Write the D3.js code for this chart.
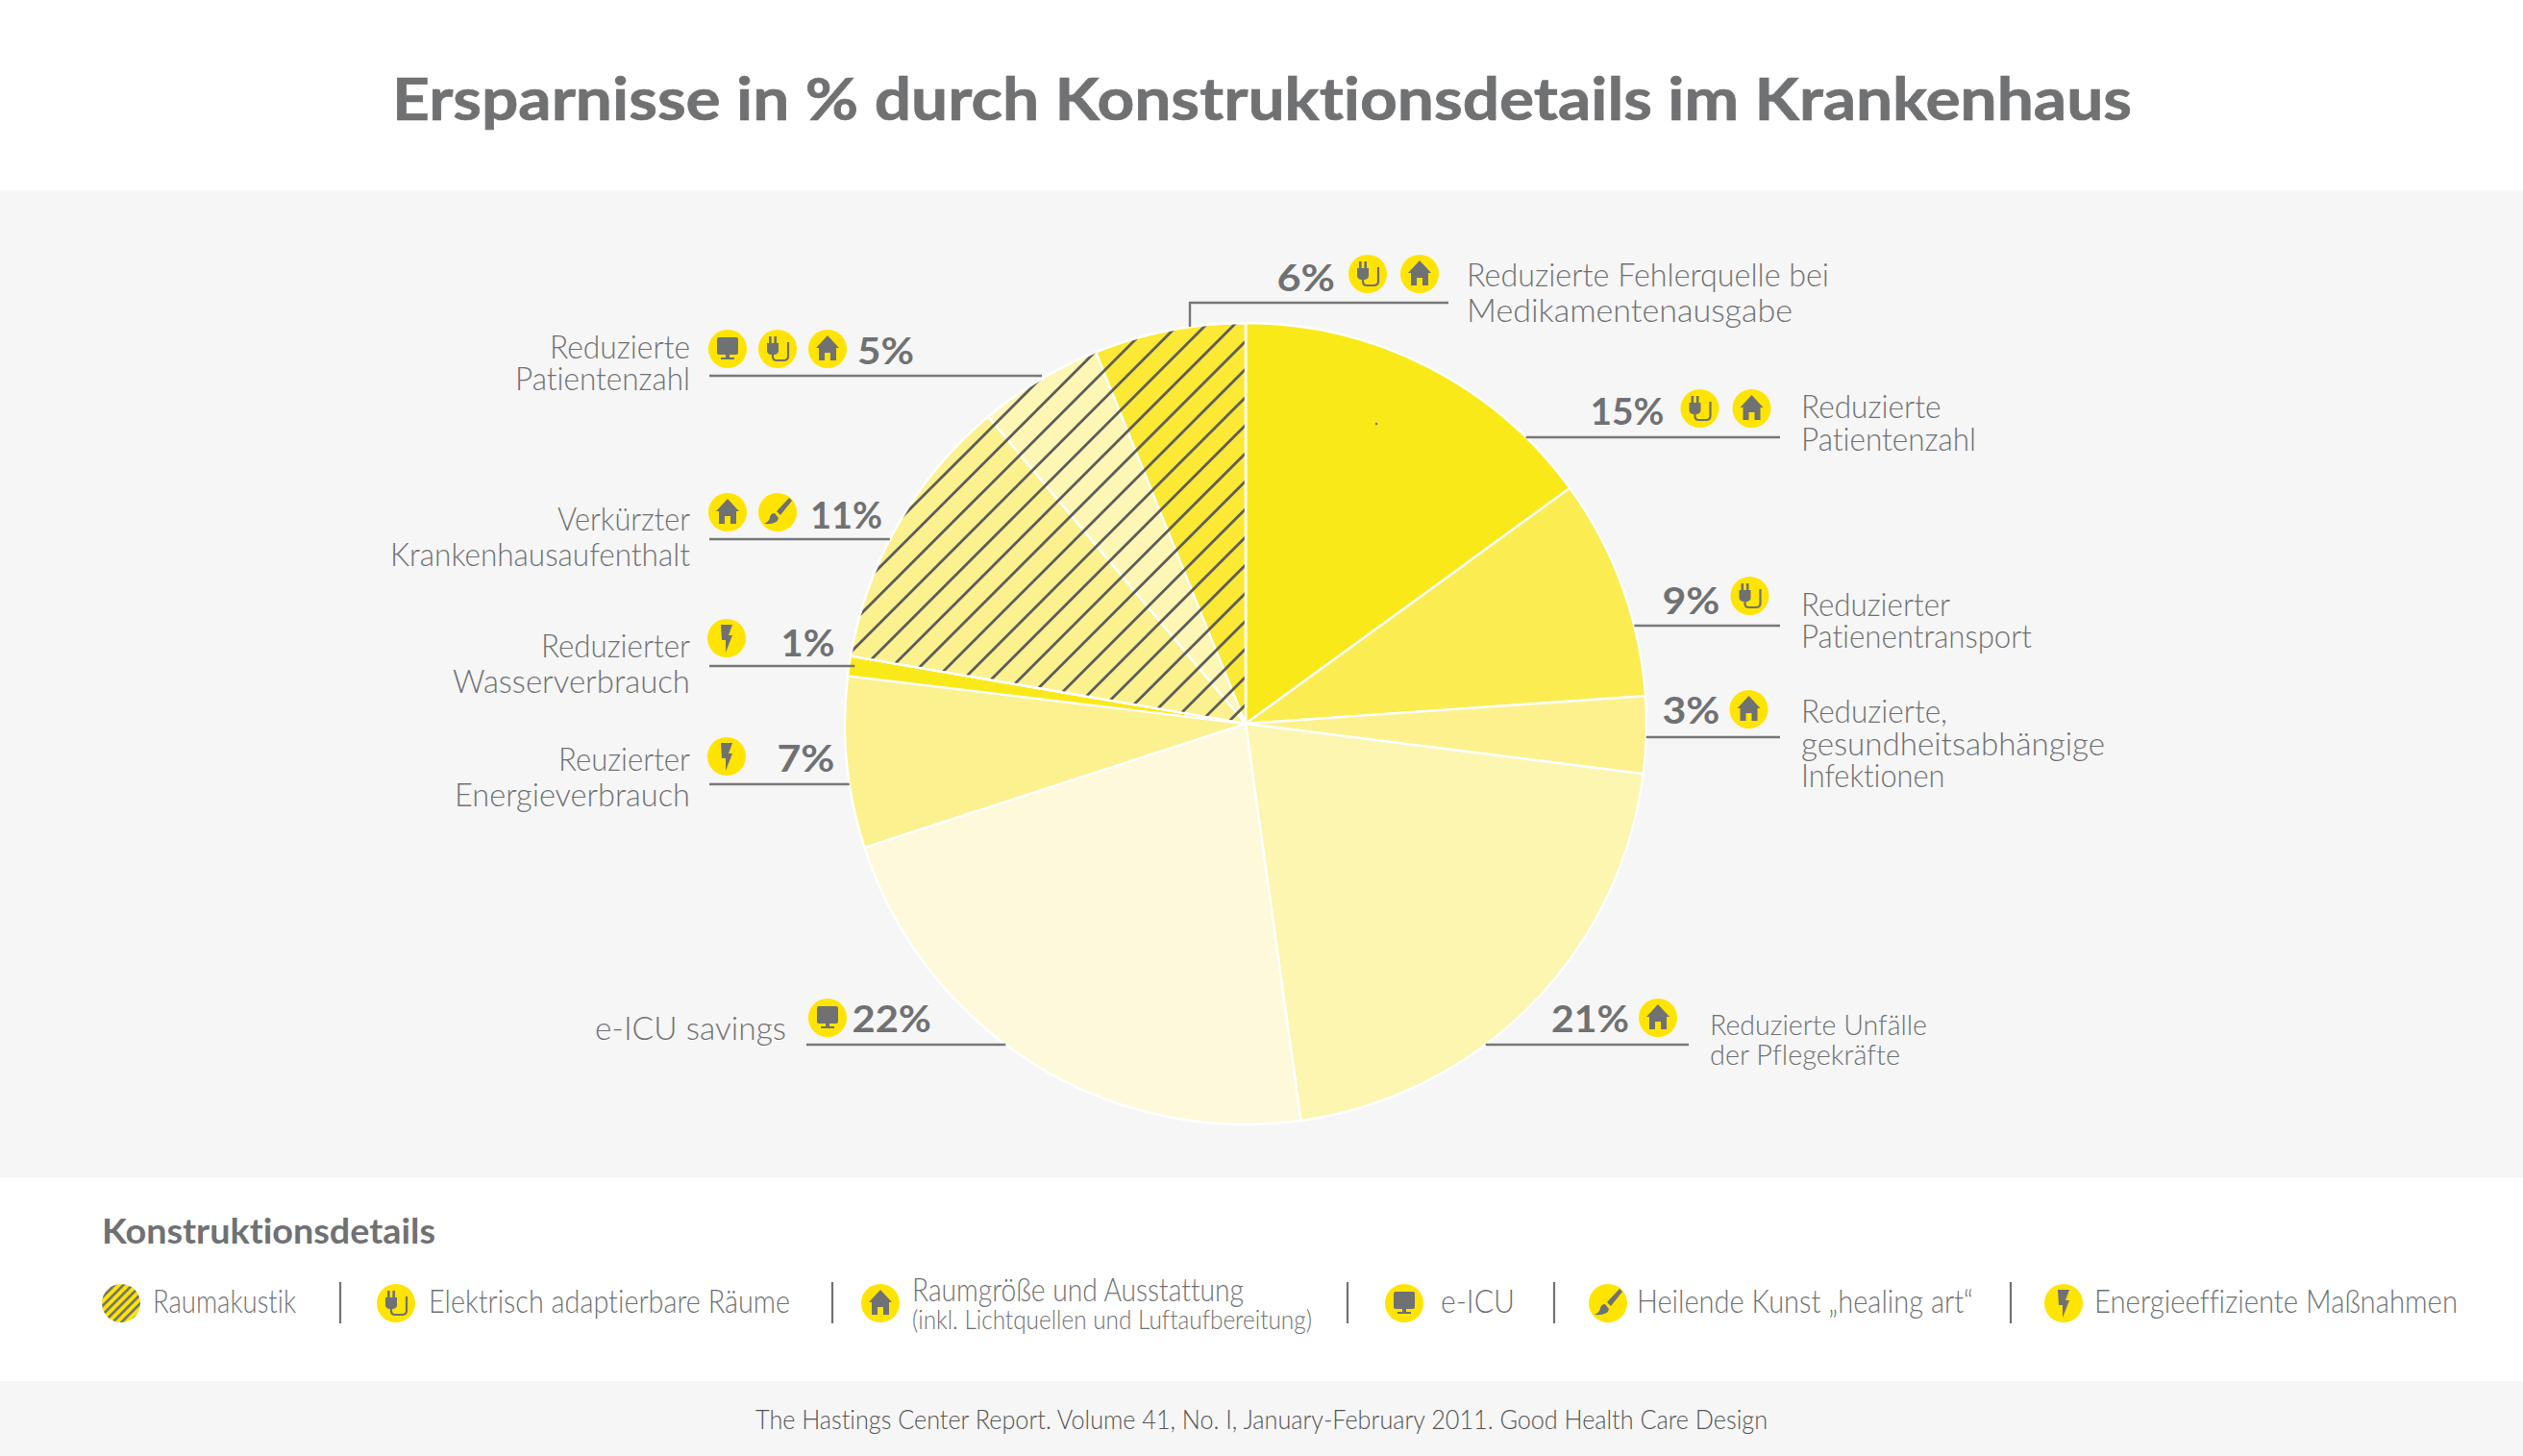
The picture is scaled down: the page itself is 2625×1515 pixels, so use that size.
<!DOCTYPE html>
<html lang="de">
<head>
<meta charset="UTF-8"/>
<title>Ersparnisse in % durch Konstruktionsdetails im Krankenhaus</title>
<script src="https://d3js.org/d3.v7.min.js"></script>
<style>
  body { margin: 0; background: #fff; overflow: hidden; }
  svg { display: block; }
  text { font-family: Lato, "Open Sans", sans-serif; fill: #707173; font-variant-ligatures: none; }
</style>
</head>
<body>
<script>
// ---- data, clockwise from 12 o'clock. Slices in the picture are not exactly
// the printed percentages, the labels are the rounded values
var savings = [15, 8.9, 3.1, 20.8, 22.2, 6.9, 0.8, 11.2, 5, 6.1];
var categories = [
  ["Reduzierte", "Patientenzahl"],
  ["Reduzierter", "Patienentransport"],
  ["Reduzierte,", "gesundheitsabhängige", "Infektionen"],
  ["Reduzierte Unfälle", "der Pflegekräfte"],
  ["e-ICU savings"],
  ["Reuzierter", "Energieverbrauch"],
  ["Reduzierter", "Wasserverbrauch"],
  ["Verkürzter", "Krankenhausaufenthalt"],
  ["Reduzierte", "Patientenzahl"],
  ["Reduzierte Fehlerquelle bei", "Medikamentenausgabe"]
];
var details = [
  ["plug", "house"], ["plug"], ["house"], ["house"], ["monitor"],
  ["bolt"], ["bolt"], ["house", "brush"], ["monitor", "plug", "house"], ["plug", "house"]
];
var hatched = [false, false, false, false, false, false, false, true, true, true];
var legendLabels = ["Raumakustik", "Elektrisch adaptierbare Räume", "Raumgröße und Ausstattung", "e-ICU", "Heilende Kunst „healing art“", "Energieeffiziente Maßnahmen"];
var legendIcons = ["hatch", "plug", "house", "monitor", "brush", "bolt"];

var w = 2625, h = 1515;
var grey = "#707173", iconYellow = "#ffe400";
var fills = ["#fae919", "#fbec52", "#fcf18c", "#fdf6b0", "#fef9da", "#fcf18f", "#fae919", "#fcf18f", "#fdf6b5", "#fbe935"];
var cx = 1296, cy = 753, r = 417;

var svg = d3.select("body").append("svg").attr("width", w).attr("height", h);

// background bands
svg.append("rect").attr("width", w).attr("height", h).attr("fill", "#fff");
svg.append("rect").attr("y", 198).attr("width", w).attr("height", 1027).attr("fill", "#f6f6f6");
svg.append("rect").attr("y", 1437).attr("width", w).attr("height", 78).attr("fill", "#f6f6f6");

var defs = svg.append("defs");
var legendHatch = defs.append("pattern").attr("id", "legend-hatch")
  .attr("patternUnits", "userSpaceOnUse").attr("width", 6.5).attr("height", 6.5)
  .attr("patternTransform", "rotate(45)");
legendHatch.append("rect").attr("width", 6.5).attr("height", 6.5).attr("fill", iconYellow);
legendHatch.append("rect").attr("width", 2.6).attr("height", 6.5).attr("fill", grey);

// text helper, width is the ink width of the string in the reference
function label(str, x, y, size, weight, anchor, width) {
  var nudge = width ? (anchor == "end" ? 1 : anchor == "start" ? -1 : 0) : 0;
  var t = svg.append("text").attr("x", x + nudge).attr("y", y).attr("font-size", size)
    .attr("font-weight", weight).attr("text-anchor", anchor).text(str);
  if (width) t.attr("textLength", width + 2).attr("lengthAdjust", "spacingAndGlyphs");
  return t;
}

// the five glyphs, drawn around 0,0 in the 40px badge
var glyphs = {
  house: function(g) {
    g.append("path").attr("d", "M0 -14 L12 -1 L9 -1 L9 12 L3 12 L3 4 L-3 4 L-3 12 L-9 12 L-9 -1 L-12 -1Z");
  },
  monitor: function(g) {
    g.append("rect").attr("x", -11).attr("y", -12).attr("width", 22).attr("height", 18).attr("rx", 2);
    g.append("rect").attr("x", -2).attr("y", 6).attr("width", 4).attr("height", 3);
    g.append("rect").attr("x", -7).attr("y", 9).attr("width", 14).attr("height", 2);
  },
  bolt: function(g) {
    g.append("path").attr("d", "M-6 -14 L6 -14 L2 -3 L6 -3 L-1 15 L-1 2 L-5 2Z");
  },
  plug: function(g) {
    g.append("rect").attr("x", -9).attr("y", -13).attr("width", 2.6).attr("height", 8);
    g.append("rect").attr("x", -3.6).attr("y", -13).attr("width", 2.6).attr("height", 8);
    g.append("path").attr("d", "M-11 -6 H1 V2 Q1 5 -3 6 H-7 Q-11 5 -11 2Z");
    g.append("path").attr("d", "M-5 6 V8 Q-5 12 -1 12 H6 Q11 12 11 8 V-7")
      .attr("fill", "none").attr("stroke", grey).attr("stroke-width", 2.2);
  },
  brush: function(g) {
    g.append("path").attr("d", "M12 -15 L15 -12 L3 3 L-1 -1Z");
    g.append("path").attr("d", "M-3 1 L1 6 Q0 13 -14 12 Q-8 9 -8 5 Q-7 1 -3 1Z");
  }
};

function badge(name, x, y) {
  var g = svg.append("g").attr("transform", "translate(" + x + "," + y + ")").attr("fill", grey);
  g.append("circle").attr("r", 20).attr("fill", name == "hatch" ? "url(#legend-hatch)" : iconYellow);
  if (glyphs[name]) glyphs[name](g);
}

// ---- title
label("Ersparnisse in % durch Konstruktionsdetails im Krankenhaus", 409, 125, 62, 700, "start", 1808)
  .attr("stroke", grey).attr("stroke-width", 0.7);

// ---- pie
var pie = d3.pie().sort(null).value(function(d) { return d; });
var arcs = pie(savings);
var arc = d3.arc().innerRadius(0).outerRadius(r);
var chart = svg.append("g").attr("transform", "translate(" + cx + "," + cy + ")");

chart.selectAll("path.slice").data(arcs).enter().append("path")
  .attr("class", "slice")
  .attr("d", arc)
  .attr("fill", function(d, i) { return fills[i]; })
  .attr("stroke", "#fff")
  .attr("stroke-width", 2.4)
  .attr("stroke-linejoin", "round");

// hatching over the Raumakustik slices
var hatchArcs = arcs.filter(function(d, i) { return hatched[i]; });
var hatchWedge = arc({ startAngle: hatchArcs[0].startAngle, endAngle: hatchArcs[hatchArcs.length - 1].endAngle });
defs.append("clipPath").attr("id", "hatch-clip").append("path").attr("d", hatchWedge);

var spacing = 29.1;
chart.append("g").attr("clip-path", "url(#hatch-clip)")
  .selectAll("line").data(d3.range(-8, 16)).enter().append("line")
  .attr("x1", -r).attr("x2", 0)
  .attr("y1", function(k) { return 355 - cy + k * spacing + r; })
  .attr("y2", function(k) { return 355 - cy + k * spacing; })
  .attr("stroke", "#5d5d5d").attr("stroke-width", 2.8);

chart.append("path").attr("d", hatchWedge).attr("fill", "none").attr("stroke", "#fff").attr("stroke-width", 2.4);

svg.append("circle").attr("cx", 1432).attr("cy", 441).attr("r", 1.2).attr("fill", grey);

// ---- callouts, one entry per slice in the order of the data
var callouts = [
  { lineY: 455, lineTo: 1852, side: 1, pct: [1730.5, 442, 75], badges: [[1768.5, 425], [1822.5, 425]],
    text: [[1875, 435, 143.5], [1875, 469, 180]], size: 34 },
  { lineY: 651, lineTo: 1852, side: 1, pct: [1788.5, 639, 58], badges: [[1820.5, 620]],
    text: [[1875, 641, 153], [1875, 674, 238]], size: 34 },
  { lineY: 767, lineTo: 1852, side: 1, pct: [1788.5, 753, 58], badges: [[1819.5, 738]],
    text: [[1875, 752, 150], [1875, 786, 314], [1875, 819, 147.5]], size: 34 },
  { lineY: 1087, lineTo: 1757, side: 1, pct: [1694, 1074, 79], badges: [[1725, 1059]],
    text: [[1780, 1077, 224], [1780, 1108, 196]], size: 30 },
  { lineY: 1087, lineTo: 839, side: -1, pct: [968, 1074, 80.5], badges: [[861, 1059]],
    text: [[817, 1082, 197]], size: 34 },
  { lineY: 816, lineTo: 738, side: -1, pct: [867.5, 803, 58], badges: [[756, 787]],
    text: [[717, 802, 135], [717, 839, 243]], size: 34 },
  { lineY: 693, lineTo: 738, side: -1, inset: 6, pct: [867.5, 683, 54], badges: [[756, 664]],
    text: [[717, 684, 153], [717, 721, 245]], size: 34 },
  { lineY: 561, lineTo: 738, side: -1, pct: [917, 550, 73], badges: [[757, 533], [809, 533]],
    text: [[717, 552, 136], [717, 589, 310]], size: 34 },
  { lineY: 391, lineTo: 738, side: -1, inset: -5, pct: [950, 379, 57], badges: [[757, 363], [809, 363], [861, 363]],
    text: [[717, 373, 144], [717, 406, 180]], size: 34 },
  { lineY: 315, elbowX: 1238, lineTo: 1507, pct: [1388, 303, 58.5], badges: [[1423, 285], [1477, 285]],
    text: [[1527, 298, 375], [1527, 335, 337]], size: 34 }
];

function edgeX(y, side) {
  return cx + side * Math.sqrt(r * r - (y - cy) * (y - cy));
}

callouts.forEach(function(c, i) {
  var points;
  if (c.elbowX) {
    var yEdge = cy - Math.sqrt(r * r - (c.elbowX - cx) * (c.elbowX - cx));
    points = [[c.lineTo, c.lineY], [c.elbowX, c.lineY], [c.elbowX, yEdge]];
  } else {
    points = [[c.lineTo, c.lineY], [edgeX(c.lineY, c.side) - c.side * (c.inset || 0), c.lineY]];
  }
  svg.append("path").attr("d", d3.line()(points)).attr("fill", "none").attr("stroke", "#77787a").attr("stroke-width", 2.4);

  c.badges.forEach(function(b, j) { badge(details[i][j], b[0], b[1]); });
  label(Math.round(savings[i]) + "%", c.pct[0], c.pct[1], 38, 700, "end", c.pct[2]);

  var rightAligned = c.text[0][0] < cx;
  categories[i].forEach(function(line, j) {
    var t = c.text[j];
    label(line, t[0], t[1], c.size, 300, rightAligned ? "end" : "start", t[2]);
  });
});

// ---- legend
label("Konstruktionsdetails", 107, 1294, 37, 700, "start", 345);

var legendItems = [
  { icon: 126, x: 160, width: 147, sep: 354 },
  { icon: 412, x: 447, width: 374, sep: 866 },
  { icon: 916, x: 950, width: 343, sep: 1402 },
  { icon: 1461, x: 1500, width: 75, sep: 1617 },
  { icon: 1673, x: 1704, width: 348, sep: 2092 },
  { icon: 2147, x: 2180, width: 376 }
];
legendItems.forEach(function(d, i) {
  badge(legendIcons[i], d.icon, 1356);
  var twoLines = legendIcons[i] == "house";
  label(legendLabels[i], d.x, twoLines ? 1354 : 1366, 33, 300, "start", d.width);
  if (d.sep) {
    svg.append("line").attr("x1", d.sep).attr("x2", d.sep).attr("y1", 1334).attr("y2", 1377)
      .attr("stroke", grey).attr("stroke-width", 2.2);
  }
});
label("(inkl. Lichtquellen und Luftaufbereitung)", 950, 1383, 27, 300, "start", 414);

// ---- source line
label("The Hastings Center Report. Volume 41, No. I, January-February 2011. Good Health Care Design", 1312.5, 1487, 27, 300, "middle", 1051)
  .style("fill", "#555");
</script>
</body>
</html>
